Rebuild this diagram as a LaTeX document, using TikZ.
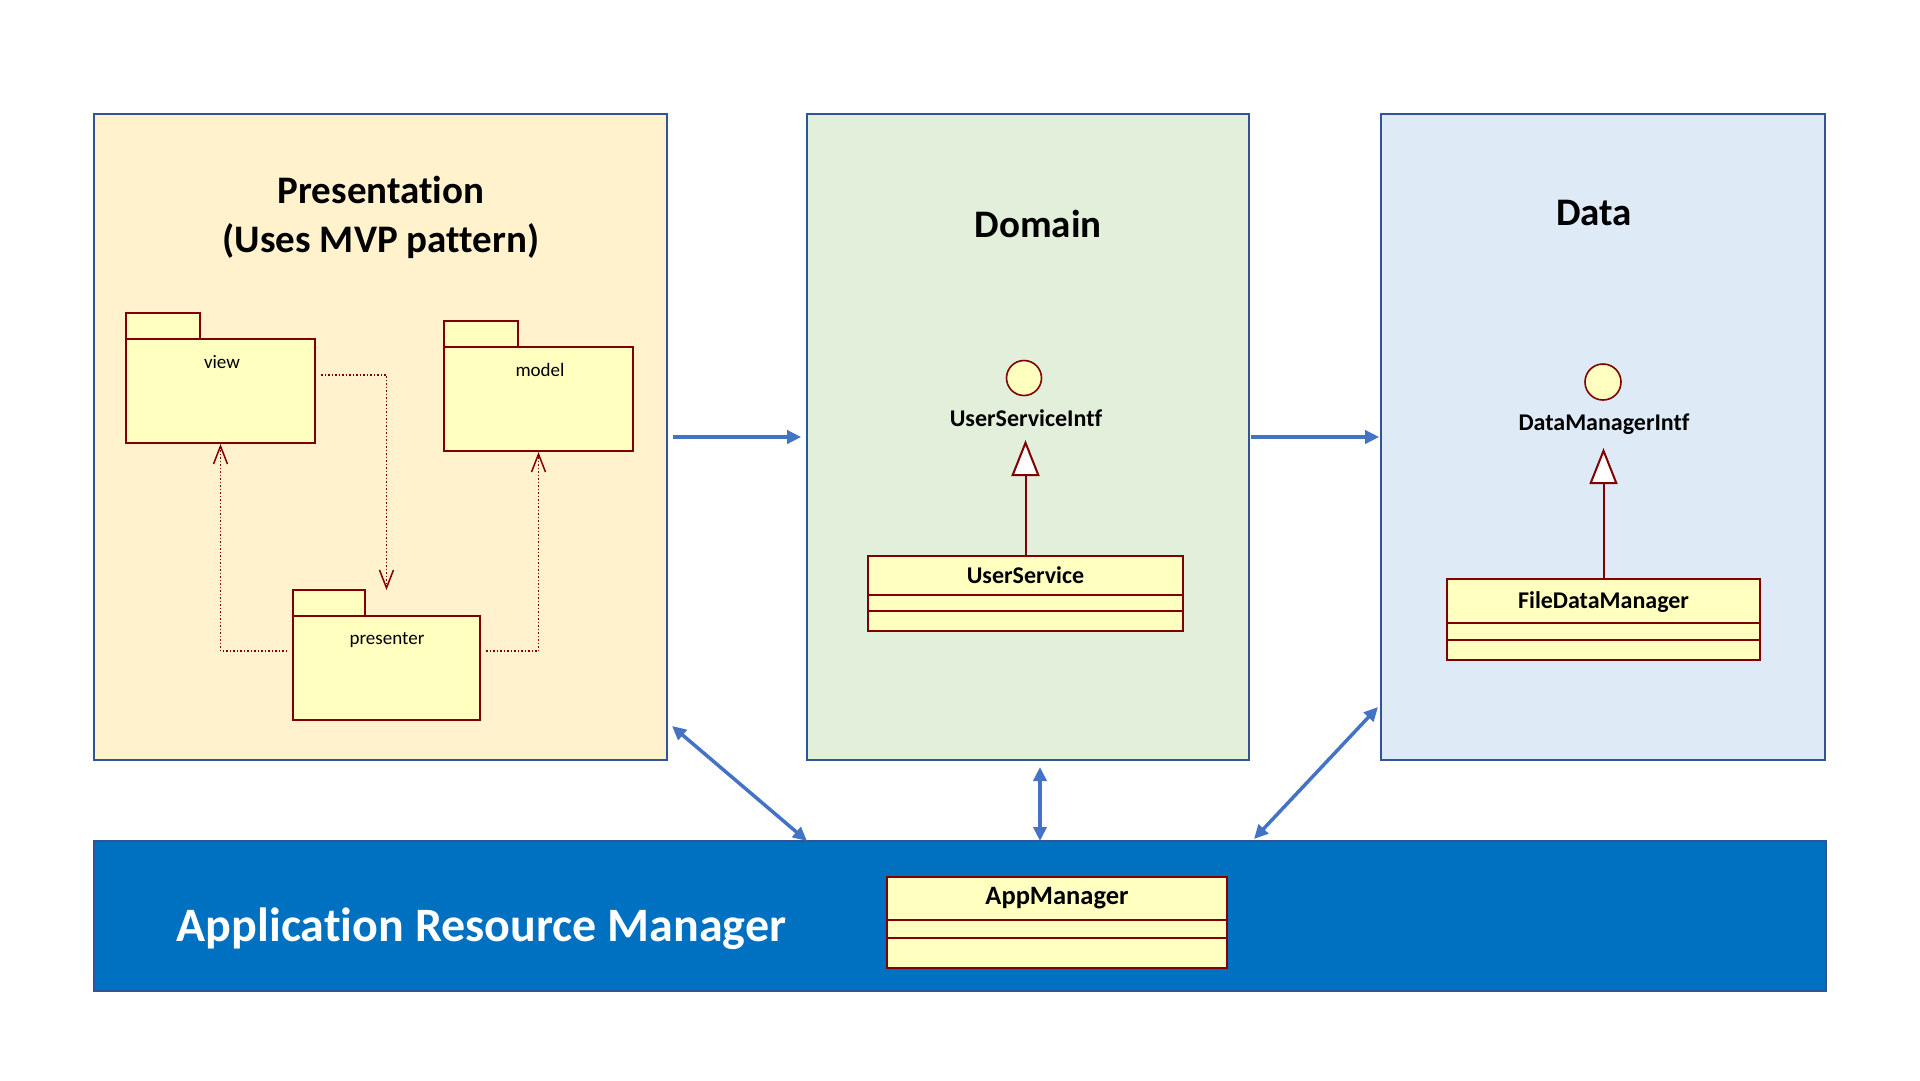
\documentclass[tikz,border=0pt]{standalone}
\usepackage{fontspec}
\setmainfont{Carlito}[Ligatures=NoCommon]
\usetikzlibrary{arrows.meta}
\definecolor{presfill}{HTML}{FFF2CC}
\definecolor{domfill}{HTML}{E2EFDA}
\definecolor{datafill}{HTML}{DEEBF7}
\definecolor{regborder}{HTML}{2F5597}
\definecolor{barfill}{HTML}{0070C0}
\definecolor{umlfill}{HTML}{FFFFC0}
\definecolor{umlred}{HTML}{800000}
\definecolor{arrowblue}{HTML}{4472C4}
\begin{document}
\begin{tikzpicture}[x=1pt,y=-1pt,
  region/.style={draw=regborder, line width=1.6pt, inner sep=0pt},
  pkg/.style={draw=umlred, fill=umlfill, line width=2pt, inner sep=0pt},
  classbox/.style={draw=umlred, fill=umlfill, line width=2pt, inner sep=0pt},
  divider/.style={draw=umlred, line width=2pt},
  clsname/.style={font=\bfseries\fontsize{24}{28}\selectfont, inner sep=0pt},
  pkgname/.style={font=\fontsize{19}{22}\selectfont, inner sep=0pt},
  title/.style={font=\bfseries\fontsize{39}{49}\selectfont, align=center, inner sep=0pt},
  iface/.style={circle, draw=umlred, fill=umlfill, line width=1.6pt, minimum size=35pt, inner sep=0pt},
  dep/.style={draw=umlred, line width=1.5pt, dotted, shorten <=5pt, -{Straight Barb[length=18pt,width=14pt,line width=1.5pt]}},
  realize/.style={draw=umlred, line width=2pt, -{Triangle[open, fill=white, length=36pt, width=28pt, line width=2pt]}},
  bluearrow/.style={draw=arrowblue, line width=3.5pt, -{Triangle[length=14pt,width=13pt]}},
  bidir/.style={draw=arrowblue, line width=3.5pt, {Triangle[length=14pt,width=13pt]}-{Triangle[length=14pt,width=13pt]}}
]
\useasboundingbox[fill=white] (0,0) rectangle (1920,1080);

% layer regions
\node[region, fill=presfill, minimum width=573pt, minimum height=646pt] (pres) at (380.5,437) {};
\node[region, fill=domfill, minimum width=442pt, minimum height=646pt] (dom) at (1028,437) {};
\node[region, fill=datafill, minimum width=444pt, minimum height=646pt] (data) at (1603,437) {};
\node[region, fill=barfill, minimum width=1732pt, minimum height=150pt] (bar) at (960,916) {};

% titles
\node[title] (prestitle) at (381,217) {Presentation\\(Uses MVP pattern)};
\node[title] (domtitle) at (1038,224) {Domain};
\node[title] (datatitle) at (1594,213) {Data};
\node[font=\bfseries\fontsize{48}{54}\selectfont, text=white, inner sep=0pt] (bartitle) at (481.5,929) {Application Resource Manager};

% packages
\node[pkg, minimum width=74pt, minimum height=26pt] (viewtab) at (163,326) {};
\node[pkg, minimum width=189pt, minimum height=104pt] (view) at (220.5,391) {};
\node[pkgname] (viewname) at (222,362) {view};

\node[pkg, minimum width=74pt, minimum height=26pt] (modeltab) at (481,334) {};
\node[pkg, minimum width=189pt, minimum height=104pt] (model) at (538.5,399) {};
\node[pkgname] (modelname) at (540,370) {model};

\node[pkg, minimum width=72pt, minimum height=26pt] (prestab) at (329,603) {};
\node[pkg, minimum width=187pt, minimum height=104pt] (presenter) at (386.5,668) {};
\node[pkgname] (presentername) at (387,640) {presenter};
\coordinate (presin) at (386.5,590);

\draw[dep] ([yshift=16pt]view.east) -| (presin);
\draw[dep] ([yshift=17pt]presenter.west) -| (view.south);
\draw[dep] ([yshift=17pt]presenter.east) -| (model.south);

% domain
\node[iface] (usi) at (1024,378) {};
\node[clsname] (usiname) at (1026,418) {UserServiceIntf};
\coordinate (usiapex) at (1025.5,440);
\node[classbox, minimum width=315pt, minimum height=75pt] (us) at (1025.5,593.5) {};
\node[clsname] (usname) at (1025.5,575) {UserService};
\draw[divider] (868,595) -- (1183,595);
\draw[divider] (868,611) -- (1183,611);
\draw[realize] (us.north) -- (usiapex);

% data
\node[iface, minimum size=36pt] (dmi) at (1603,382) {};
\node[clsname] (dminame) at (1604,424) {DataManagerIntf};
\coordinate (dmiapex) at (1603.5,448);
\node[classbox, minimum width=313pt, minimum height=81pt] (fdm) at (1603.5,619.5) {};
\node[clsname] (fdmname) at (1603.5,602) {FileDataManager};
\draw[divider] (1447,623) -- (1760,623);
\draw[divider] (1447,640) -- (1760,640);
\draw[realize] (fdm.north) -- (dmiapex);

% app manager
\node[classbox, minimum width=340pt, minimum height=91pt] (am) at (1057,922.5) {};
\node[clsname, font=\bfseries\fontsize{26.5}{30}\selectfont] (amname) at (1057,898) {AppManager};
\draw[divider] (887,920) -- (1227,920);
\draw[divider] (887,938) -- (1227,938);

% blue arrows
\draw[bluearrow, shorten <=5pt, shorten >=5pt] (pres.east) -- (dom.west);
\draw[bluearrow, shorten <=1pt, shorten >=1pt] (dom.east) -- (data.west);
\coordinate (pa1) at (672,726);
\coordinate (pa2) at (807,841);
\draw[bidir] (pa1) -- (pa2);
\coordinate (da1) at (1040,767);
\coordinate (da2) at (1040,841);
\draw[bidir] (da1) -- (da2);
\coordinate (ta1) at (1378,707);
\coordinate (ta2) at (1254,839);
\draw[bidir] (ta1) -- (ta2);
\end{tikzpicture}
\end{document}
